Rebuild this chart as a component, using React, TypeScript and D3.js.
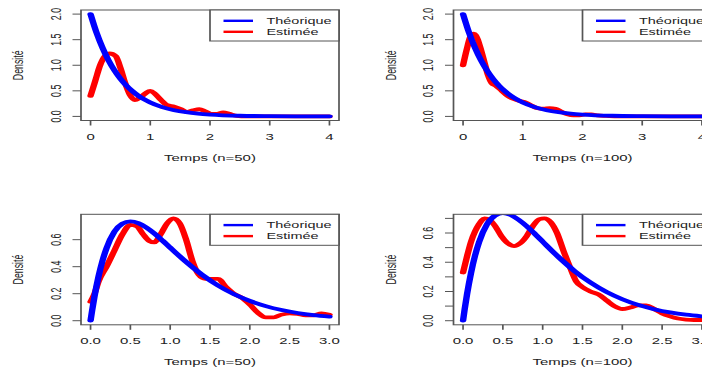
import React from 'react';
import * as d3 from 'd3';

// horizontal stretch of the whole picture (the reference is anisotropic)
const SX = 1.7;
const W = 702;
const H = 371;

// ---- data ----
const seriesNames = ['Théorique', 'Estimée'];
const xTitles = ['Temps (n=50)', 'Temps (n=100)'];
const yTitle = 'Densité';

const expTicksX = [0, 1, 2, 3, 4];
const expTicksY = [0, 0.5, 1, 1.5, 2];
const gamTicksX = [0, 0.5, 1, 1.5, 2, 2.5, 3];
const gam50TicksY = [0, 0.2, 0.4, 0.6];
const gam100TicksY = [0, 0.1, 0.2, 0.3, 0.4, 0.5, 0.6, 0.7];
const gam100LabelsY = [0, 0.2, 0.4, 0.6];

// theoretical exponential density (top row)
const expX = [0, 0.1, 0.2, 0.3, 0.4, 0.5, 0.6, 0.7, 0.8, 0.9, 1.0, 1.2, 1.4, 1.6, 1.8, 2.0, 2.5, 3.0, 3.5, 4.0];
const expY = [2.0, 1.637, 1.341, 1.098, 0.899, 0.736, 0.602, 0.493, 0.404, 0.331, 0.271, 0.181, 0.122, 0.082, 0.055, 0.037, 0.013, 0.005, 0.002, 0.001];

// theoretical gamma density (bottom row)
const gamX = [0, 0.02, 0.05, 0.1, 0.15, 0.2, 0.3, 0.4, 0.5, 0.6, 0.7, 0.8, 0.9, 1.0, 1.2, 1.4, 1.6, 1.8, 2.0, 2.2, 2.4, 2.6, 2.8, 3.0];
const gamY = [0, 0.077, 0.181, 0.327, 0.444, 0.536, 0.659, 0.719, 0.736, 0.723, 0.69, 0.646, 0.595, 0.541, 0.435, 0.34, 0.261, 0.197, 0.147, 0.108, 0.079, 0.057, 0.041, 0.03];

// estimated densities
const est1X = [0, 0.08, 0.16, 0.24, 0.32, 0.42, 0.5, 0.58, 0.66, 0.74, 0.82, 0.92, 1.0, 1.08, 1.18, 1.28, 1.4, 1.5, 1.62, 1.72, 1.82, 1.92, 2.02, 2.12, 2.22, 2.32, 2.45, 2.6, 3.0, 3.5, 4.0];
const est1Y = [0.4, 0.7, 1.0, 1.18, 1.23, 1.18, 0.95, 0.65, 0.42, 0.32, 0.36, 0.45, 0.5, 0.44, 0.32, 0.22, 0.19, 0.15, 0.09, 0.12, 0.14, 0.1, 0.05, 0.05, 0.08, 0.05, 0.01, 0.0, 0.0, 0.0, 0.0];

const est2X = [0, 0.06, 0.12, 0.18, 0.24, 0.3, 0.36, 0.42, 0.48, 0.55, 0.65, 0.75, 0.85, 0.95, 1.05, 1.15, 1.25, 1.35, 1.45, 1.55, 1.65, 1.75, 1.85, 1.95, 2.05, 2.15, 2.25, 2.4, 2.6, 3.0, 3.5, 4.0];
const est2Y = [1.0, 1.3, 1.55, 1.62, 1.52, 1.3, 1.05, 0.8, 0.65, 0.6, 0.5, 0.4, 0.34, 0.3, 0.27, 0.21, 0.16, 0.15, 0.16, 0.15, 0.09, 0.04, 0.02, 0.02, 0.04, 0.04, 0.02, 0.01, 0.0, 0.0, 0.0, 0.0];

const est3X = [0, 0.05, 0.1, 0.2, 0.3, 0.4, 0.5, 0.58, 0.66, 0.74, 0.8, 0.88, 0.96, 1.04, 1.12, 1.2, 1.28, 1.36, 1.44, 1.52, 1.6, 1.7, 1.8, 1.9, 2.0, 2.1, 2.2, 2.3, 2.4, 2.5, 2.6, 2.7, 2.8, 2.9, 3.0];
const est3Y = [0.14, 0.2, 0.29, 0.4, 0.52, 0.64, 0.71, 0.7, 0.64, 0.59, 0.58, 0.64, 0.72, 0.757, 0.72, 0.6, 0.44, 0.34, 0.31, 0.31, 0.31, 0.25, 0.2, 0.17, 0.12, 0.06, 0.025, 0.025, 0.045, 0.055, 0.05, 0.04, 0.04, 0.055, 0.045];

const est4X = [0, 0.05, 0.1, 0.15, 0.2, 0.27, 0.33, 0.4, 0.48, 0.56, 0.64, 0.72, 0.8, 0.88, 0.96, 1.02, 1.1, 1.18, 1.26, 1.34, 1.42, 1.5, 1.6, 1.7, 1.8, 1.9, 2.0, 2.1, 2.2, 2.3, 2.4, 2.5, 2.6, 2.7, 2.8, 2.9, 3.0];
const est4Y = [0.33, 0.44, 0.54, 0.61, 0.66, 0.7, 0.69, 0.65, 0.58, 0.53, 0.51, 0.53, 0.58, 0.65, 0.695, 0.7, 0.675, 0.6, 0.48, 0.37, 0.27, 0.23, 0.2, 0.18, 0.14, 0.1, 0.08, 0.09, 0.105, 0.105, 0.08, 0.05, 0.03, 0.015, 0.008, 0.005, 0.005];

const FONT = '"Liberation Sans", Arial, sans-serif';
const FS = 8.8;
const TXT = '#222';
const AX = '#555';
const BLUE = '#0000ff';
const RED = '#ff0000';

type PanelProps = {
  id: string;
  left: number; // screen px
  top: number;
  width: number;
  height: number;
  xDomain: [number, number];
  yDomain: [number, number];
  xTicks: number[];
  xFmt: (v: number) => string;
  yTicks: number[];
  yLabels: number[];
  xTitle: string;
  thX: number[];
  thY: number[];
  esX: number[];
  esY: number[];
};

function Panel(p: PanelProps) {
  const l = p.left / SX;
  const r = (p.left + p.width) / SX;
  const t = p.top;
  const b = p.top + p.height;
  const x = d3.scaleLinear().domain(p.xDomain).range([l, r]);
  const y = d3.scaleLinear().domain(p.yDomain).range([b, t]);
  const line = d3
    .line<[number, number]>()
    .x((d) => x(d[0]))
    .y((d) => y(d[1]))
    .curve(d3.curveMonotoneX);
  const th = p.thX.map((v, i) => [v, p.thY[i]] as [number, number]);
  const es = p.esX.map((v, i) => [v, p.esY[i]] as [number, number]);
  const yFmt = d3.format('.1f');
  const cx = (l + r) / 2;
  const cy = (t + b) / 2;
  const legL = (p.left + p.width - 129) / SX;
  const legW = 129 / SX;
  return (
    <g>
      <defs>
        <clipPath id={p.id}>
          <rect x={l} y={t} width={r - l} height={b - t} />
        </clipPath>
      </defs>
      <g clipPath={`url(#${p.id})`} fill="none" strokeLinecap="round" strokeLinejoin="round">
        <path d={line(es) || ''} stroke={RED} strokeWidth={3.8} />
        <path d={line(th) || ''} stroke={BLUE} strokeWidth={3.8} />
      </g>
      <rect x={l} y={t} width={r - l} height={b - t} fill="none" stroke={AX} strokeWidth={1} />
      {/* x axis */}
      {p.xTicks.map((v) => (
        <g key={'xt' + v}>
          <line x1={x(v)} x2={x(v)} y1={b} y2={b + 5} stroke={AX} strokeWidth={1} />
          <text x={x(v)} y={b + 16.5} dy="0.35em" textAnchor="middle" fontSize={FS} fontFamily={FONT} fill={TXT}>
            {p.xFmt(v)}
          </text>
        </g>
      ))}
      {/* y axis */}
      {p.yTicks.map((v) => (
        <line key={'yt' + v} x1={l - 5} x2={l} y1={y(v)} y2={y(v)} stroke={AX} strokeWidth={1} />
      ))}
      {p.yLabels.map((v) => (
        <text
          key={'yl' + v}
          transform={`translate(${l - 15},${y(v)}) rotate(-90)`}
          dy="0.35em"
          textAnchor="middle"
          fontSize={FS}
          fontFamily={FONT}
          fill={TXT}
        >
          {yFmt(v)}
        </text>
      ))}
      {/* titles */}
      <text x={cx} y={b + 37} dy="0.35em" textAnchor="middle" fontSize={FS} fontFamily={FONT} fill={TXT}>
        {p.xTitle}
      </text>
      <text
        transform={`translate(${l - 37},${cy}) rotate(-90)`}
        dy="0.35em"
        textAnchor="middle"
        fontSize={FS}
        fontFamily={FONT}
        fill={TXT}
      >
        {yTitle}
      </text>
      {/* legend */}
      <rect x={legL} y={t} width={legW} height={31} fill="white" stroke={AX} strokeWidth={1} />
      {seriesNames.map((name, i) => (
        <g key={name}>
          <line
            x1={legL + 13.5 / SX}
            x2={legL + 43 / SX}
            y1={t + 10.8 + i * 11}
            y2={t + 10.8 + i * 11}
            stroke={i === 0 ? BLUE : RED}
            strokeWidth={2.4}
          />
          <text x={legL + 56.5 / SX} y={t + 10.8 + i * 11} dy="0.35em" fontSize={8.5} fontFamily={FONT} fill={TXT}>
            {name}
          </text>
        </g>
      ))}
    </g>
  );
}

export default function App() {
  const colL = [81, 453.5];
  const rowT = [10, 214.3];
  const pw = 258;
  const ph = 110.5;
  const intFmt = d3.format('d');
  const decFmt = d3.format('.1f');
  return (
    <svg
      width={W}
      height={H}
      style={{ position: 'absolute', left: 0, top: 0, display: 'block', background: 'white' }}
    >
      <g transform={`scale(${SX},1)`}>
        <Panel id="c1" left={colL[0]} top={rowT[0]} width={pw} height={ph}
          xDomain={[-0.16, 4.16]} yDomain={[-0.08, 2.08]}
          xTicks={expTicksX} xFmt={intFmt} yTicks={expTicksY} yLabels={expTicksY}
          xTitle={xTitles[0]} thX={expX} thY={expY} esX={est1X} esY={est1Y} />
        <Panel id="c2" left={colL[1]} top={rowT[0]} width={pw} height={ph}
          xDomain={[-0.16, 4.16]} yDomain={[-0.08, 2.08]}
          xTicks={expTicksX} xFmt={intFmt} yTicks={expTicksY} yLabels={expTicksY}
          xTitle={xTitles[1]} thX={expX} thY={expY} esX={est2X} esY={est2Y} />
        <Panel id="c3" left={colL[0]} top={rowT[1]} width={pw} height={ph}
          xDomain={[-0.12, 3.12]} yDomain={[-0.0303, 0.7878]}
          xTicks={gamTicksX} xFmt={decFmt} yTicks={gam50TicksY} yLabels={gam50TicksY}
          xTitle={xTitles[0]} thX={gamX} thY={gamY} esX={est3X} esY={est3Y} />
        <Panel id="c4" left={colL[1]} top={rowT[1]} width={pw} height={ph}
          xDomain={[-0.12, 3.12]} yDomain={[-0.028, 0.728]}
          xTicks={gamTicksX} xFmt={decFmt} yTicks={gam100TicksY} yLabels={gam100LabelsY}
          xTitle={xTitles[1]} thX={gamX} thY={gamY} esX={est4X} esY={est4Y} />
      </g>
    </svg>
  );
}
